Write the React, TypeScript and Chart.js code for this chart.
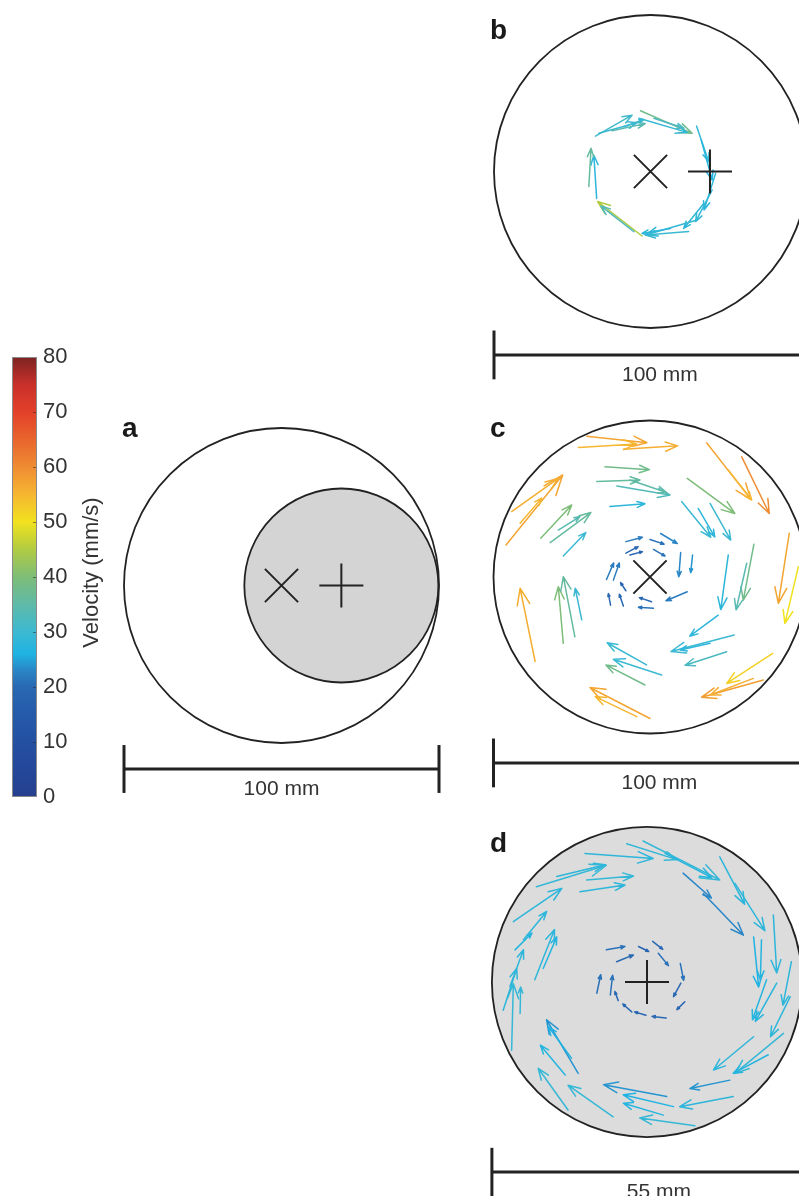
import React, { useEffect, useRef } from 'react';
import { Chart, registerables } from 'chart.js';

Chart.register(...registerables);

const FONT = '"Liberation Sans", Arial, Helvetica, sans-serif';

// ---------- colour bar ----------
const colorbarTicks = [0, 10, 20, 30, 40, 50, 60, 70, 80];
const colorbarTitle = 'Velocity (mm/s)';
const colormapLevels = [0, 5, 10, 15, 20, 23, 26, 30, 35, 40, 45, 50, 55, 60, 65, 70, 75, 80];
const colormapColors = ['#263f8e', '#24479a', '#2450a2', '#255aaa', '#2968b2', '#2a86c6', '#1eb3e2', '#3cb9d2', '#5fbaa8', '#7dbd78', '#b1cb42', '#f1e21e', '#f6b631', '#ef8c33', '#e8652d', '#e3402a', '#c9302a', '#7b2421'];

// ---------- panel a (mm) ----------
const aCircleX = [0, 19];
const aCircleY = [0, 0];
const aCircleR = [50, 30.8];
const aCrossX = [0];
const aCrossY = [0];
const aPlusX = [19];
const aPlusY = [0];
const aBar = [-50, 50];
const aBarLabel = '100 mm';

// ---------- panel b ----------
const bCircleX = [0];
const bCircleY = [0];
const bCircleR = [50];
const bCrossX = [0];
const bCrossY = [0];
const bPlusX = [19];
const bPlusY = [0];
const bBar = [-50, 56];
const bBarLabel = '100 mm';
const bArrowX = [-17.6, -16.5, -12.3, -8.5, -3.2, -3.7, 1.1, 14.7, 16.2, 20.8, 19.7, 17.0, 14.9, 12.2, 6.4, -2.7, -5.3, -17.2, -19.7];
const bArrowY = [11.3, 12.2, 13.0, 14.3, 19.4, 17.0, 17.0, 14.5, 10.1, -0.6, -5.9, -10.2, -15.5, -19.2, -18.2, -20.6, -19.2, -8.6, -4.8];
const bArrowU = [11.7, 12.2, 10.6, 6.4, 16.5, 15.4, 9.6, 3.9, 3.5, -3.7, -5.3, -6.4, -16.5, -13.8, -9.1, -14.2, -10.6, -0.9, 0.7];
const bArrowV = [6.7, 3.4, 2.3, 2.3, -7.2, -4.5, -3.2, -11.4, -12.8, -11.7, -10.1, -8.0, -4.8, -1.1, -1.6, 11.0, 8.2, 13.8, 12.2];
const bArrowSpeed = [31, 30, 34, 30, 38, 29, 32, 29, 27, 28, 29, 28, 29, 30, 28, 45, 33, 28, 36];

// ---------- panel c ----------
const cCircleX = [0];
const cCircleY = [0];
const cCircleR = [50];
const cCrossX = [0];
const cCrossY = [0];
const cBar = [-50, 56];
const cBarLabel = '100 mm';
const cArrowX = [-20.2, -22.9, -8.5, 18.1, 29.3, 25.0, -46.0, -44.2, -41.5, -34.9, -31.9, -27.7, -29.3, -14.4, -17.0, -10.6, -6.4, -12.8, 11.9, 10.1, 15.4, 19.2, 25.0, 33.2, 30.9, 44.5, 47.4, -36.7, -27.7, -24.0, -21.8, -1.1, 3.7, -1.6, 0.0, -4.2, 21.8, 26.9, 24.5, 19.2, 39.2, 36.2, 33.0,
  -7.7, 0.0, 3.4, -7.7, -6.4, 1.1, 9.8, 13.6, 11.9, 0.5, 1.1, -8.5, -12.6, -11.7, -13.9, -7.7];
const cArrowY = [45.0, 41.4, 40.8, 42.9, 38.4, 34.2, 10.2, 20.9, 17.2, 12.4, 11.0, 6.7, 15.0, 35.2, 30.5, 29.1, 31.0, 22.5, 31.5, 24.1, 21.9, 23.5, 7.0, 10.5, 4.4, 14.0, 3.3, -27.0, -21.2, -19.1, -13.7, -28.1, -31.3, -34.5, -45.2, -44.6, -12.2, -18.5, -23.9, -21.2, -24.4, -32.9, -32.4,
  11.3, 12.0, 13.9, 7.6, 7.0, 8.8, 7.8, 7.0, -4.7, -7.9, -10.0, -9.3, -9.0, -1.0, -0.8, -4.4];
const cArrowU = [19.2, 18.6, 17.3, 14.1, 8.8, 7.5, 18.1, 14.9, 6.9, 9.9, 13.0, 7.2, 6.9, 14.2, 13.8, 17.0, 11.7, 11.2, 15.2, 9.3, 5.3, 6.6, -2.4, -3.4, -3.4, -3.5, -4.3, -4.8, -1.6, -3.7, -2.1, -12.6, -15.4, -12.5, -19.2, -13.3, -9.1, -20.2, -13.3, -9.6, -14.7, -19.7, -13.8,
  5.3, 4.5, 5.3, 3.9, 4.0, 3.7, -0.6, -0.6, -6.8, -3.9, -4.8, -1.3, -0.7, 1.9, 2.3, -1.7];
const cArrowV = [-2.1, 1.1, 1.1, -18.1, -18.1, -9.6, 22.4, 10.6, 8.0, 10.6, 9.6, 7.5, 4.3, -0.9, 0.5, -2.9, -4.0, 0.9, -11.2, -11.4, -9.1, -11.7, -17.4, -17.9, -14.9, -22.4, -18.1, 23.4, 18.1, 19.2, 10.1, 7.1, 5.0, 6.4, 9.9, 6.4, -6.7, -5.3, -4.3, -2.1, -9.6, -5.5, -5.3,
  1.4, -1.5, -3.2, 2.1, 1.1, -2.1, -7.7, -5.6, -2.9, 1.3, 0.3, 3.8, 3.7, 5.5, 5.3, 2.6];
const cArrowSpeed = [57, 55, 56, 57, 60, 55, 57, 56, 55, 40, 36, 30, 34, 38, 36, 33, 35, 28, 40, 30, 28, 30, 28, 38, 34, 57, 50, 56, 40, 36, 30, 30, 30, 38, 57, 55, 28, 30, 32, 28, 52, 58, 56,
  22, 21, 23, 20, 19, 21, 23, 24, 22, 20, 21, 20, 20, 22, 22, 19];

// ---------- panel d ----------
const dCircleX = [0];
const dCircleY = [0];
const dCircleR = [27.5];
const dPlusX = [0];
const dPlusY = [0];
const dBar = [-27.5, 31.7];
const dBarLabel = '55 mm';
const dArrowX = [-11.0, -3.6, -0.7, 3.2, 6.4, 12.9, 15.6, 10.0, 18.9, 22.4, 20.3, 25.6, 23.0, 25.4, 21.2, 18.9, 24.2, 21.5, 14.7, 15.3, 3.5, 4.7, 2.9, 8.5, -6.0, -14.0, -12.2, -14.5, -13.4, -24.0, -25.5, -22.5, -24.3, -23.4, -23.7, -19.6, -19.9, -18.4, -11.9, -10.7, -16.0, -21.9,
  -7.2, -5.4, -1.5, 1.0, 2.0, 5.9, 6.0, 6.7, 3.4, -0.2, -2.7, -5.1, -6.5, -8.9];
const dArrowY = [22.8, 24.5, 25.0, 22.8, 19.3, 22.2, 17.5, 15.7, 8.0, 11.9, 7.5, 3.6, -0.2, -2.6, 0.4, -9.7, -9.1, -12.9, -17.4, -20.3, -20.3, -22.1, -23.6, -25.5, -23.9, -22.7, -16.2, -16.5, -13.5, -12.1, -5.0, -5.6, -0.8, 5.7, 10.7, 16.9, 0.4, 2.4, 16.0, 18.1, 18.7, 7.5,
  5.7, 3.6, 6.3, 7.2, 5.1, 3.3, -0.2, -3.5, -6.4, -5.9, -5.3, -3.3, -2.3, -2.0];
const dArrowU = [12.1, 8.9, 13.6, 8.3, 5.0, 4.4, 5.3, 7.1, 0.9, 0.6, -0.2, -1.5, -3.8, -3.5, -2.5, -7.1, -8.6, -6.2, -7.1, -9.5, -11.2, -8.9, -7.1, -9.8, -8.0, -5.3, -5.6, -4.4, -4.1, 0.3, 2.4, 0.1, 2.4, 3.0, 8.6, 12.4, 3.5, 2.4, 8.0, 8.3, 8.6, 4.1,
  3.3, 3.0, 1.8, 1.8, 1.8, 0.6, -1.3, -1.4, -2.5, -2.0, -1.6, -0.6, 0.4, 0.7];
const dArrowV = [-0.9, -2.8, -6.9, -4.3, -4.4, -8.4, -8.4, -7.4, -8.9, -10.3, -7.1, -7.7, -6.8, -7.1, -7.1, -5.9, -7.1, -3.3, -1.5, -1.8, 2.1, 2.1, 2.1, 1.4, 5.6, 7.4, 9.5, 5.3, 5.6, 11.8, 7.4, 4.7, 6.5, 3.0, 5.9, 3.8, 8.9, 5.6, 1.2, 0.7, 2.1, 5.0,
  0.6, 1.2, -0.9, -1.4, -2.2, -3.0, -2.4, -1.4, 0.3, 0.6, 1.4, 1.6, 3.5, 3.3];
const dArrowSpeed = [28, 29, 29, 27, 23, 28, 28, 23, 26, 28, 27, 28, 27, 28, 27, 28, 29, 27, 24, 28, 24, 26, 27, 29, 29, 29, 24, 27, 26, 29, 28, 29, 28, 27, 28, 29, 28, 27, 28, 29, 28, 28,
  21, 20, 19, 20, 21, 21, 20, 19, 20, 19, 20, 20, 21, 21];

// ---------- helpers ----------
function hexToRgb(h: string) {
  const n = parseInt(h.slice(1), 16);
  return [(n >> 16) & 255, (n >> 8) & 255, n & 255];
}
function speedColor(v: number) {
  const lv = colormapLevels;
  if (v <= lv[0]) return colormapColors[0];
  for (let i = 1; i < lv.length; i++) {
    if (v <= lv[i]) {
      const t = (v - lv[i - 1]) / (lv[i] - lv[i - 1]);
      const a = hexToRgb(colormapColors[i - 1]);
      const b = hexToRgb(colormapColors[i]);
      const c = a.map((x, k) => Math.round(x + (b[k] - x) * t));
      return `rgb(${c[0]},${c[1]},${c[2]})`;
    }
  }
  return colormapColors[colormapColors.length - 1];
}

const INK = '#222';

type Spec = {
  letter: string;
  letterPos: [number, number];
  rect: { left: number; top: number; width: number; height: number };
  center: [number, number];
  pxPerUnit: number;
  circles: { x: number[]; y: number[]; r: number[] };
  fills: (string | null)[];
  cross?: { x: number[]; y: number[] };
  plus?: { x: number[]; y: number[] };
  arrows?: { x: number[]; y: number[]; u: number[]; v: number[]; s: number[] };
  bar: number[];
  barY: number;
  barTick: number;
  barLabel: string;
};

const panels: Spec[] = [
  {
    letter: 'a', letterPos: [122, 437],
    rect: { left: 110, top: 395, width: 345, height: 415 },
    center: [281.5, 585.5], pxPerUnit: 3.15,
    circles: { x: aCircleX, y: aCircleY, r: aCircleR }, fills: [null, '#d4d4d4'],
    cross: { x: aCrossX, y: aCrossY }, plus: { x: aPlusX, y: aPlusY },
    bar: aBar, barY: -58.25, barTick: 7.6, barLabel: aBarLabel,
  },
  {
    letter: 'b', letterPos: [490, 39],
    rect: { left: 480, top: 0, width: 319, height: 395 },
    center: [650.5, 171.5], pxPerUnit: 3.13,
    circles: { x: bCircleX, y: bCircleY, r: bCircleR }, fills: [null],
    cross: { x: bCrossX, y: bCrossY }, plus: { x: bPlusX, y: bPlusY },
    arrows: { x: bArrowX, y: bArrowY, u: bArrowU, v: bArrowV, s: bArrowSpeed },
    bar: bBar, barY: -58.6, barTick: 7.8, barLabel: bBarLabel,
  },
  {
    letter: 'c', letterPos: [490, 437],
    rect: { left: 480, top: 400, width: 319, height: 405 },
    center: [650, 577], pxPerUnit: 3.13,
    circles: { x: cCircleX, y: cCircleY, r: cCircleR }, fills: [null],
    cross: { x: cCrossX, y: cCrossY },
    arrows: { x: cArrowX, y: cArrowY, u: cArrowU, v: cArrowV, s: cArrowSpeed },
    bar: cBar, barY: -59.4, barTick: 7.8, barLabel: cBarLabel,
  },
  {
    letter: 'd', letterPos: [490, 852],
    rect: { left: 480, top: 815, width: 319, height: 381 },
    center: [647, 982], pxPerUnit: 5.64,
    circles: { x: dCircleX, y: dCircleY, r: dCircleR }, fills: ['#dcdcdd'],
    plus: { x: dPlusX, y: dPlusY },
    arrows: { x: dArrowX, y: dArrowY, u: dArrowU, v: dArrowV, s: dArrowSpeed },
    bar: dBar, barY: -33.7, barTick: 4.3, barLabel: dBarLabel,
  },
];

function Panel({ spec }: { spec: Spec }) {
  const ref = useRef<HTMLCanvasElement>(null);
  useEffect(() => {
    const { rect, center, pxPerUnit: s } = spec;
    const xmin = (rect.left - center[0]) / s;
    const xmax = (rect.left + rect.width - center[0]) / s;
    const ymax = (center[1] - rect.top) / s;
    const ymin = (center[1] - rect.top - rect.height) / s;

    const decor = {
      id: 'panelDecor',
      beforeDatasetsDraw(chart: any) {
        const ctx = chart.ctx;
        const xs = chart.scales.x;
        const ys = chart.scales.y;
        ctx.save();
        for (let i = 0; i < spec.circles.x.length; i++) {
          const px = xs.getPixelForValue(spec.circles.x[i]);
          const py = ys.getPixelForValue(spec.circles.y[i]);
          const pr = xs.getPixelForValue(spec.circles.x[i] + spec.circles.r[i]) - px;
          ctx.beginPath();
          ctx.arc(px, py, pr, 0, Math.PI * 2);
          if (spec.fills[i]) {
            ctx.fillStyle = spec.fills[i];
            ctx.fill();
          }
          ctx.lineWidth = 1.8;
          ctx.strokeStyle = INK;
          ctx.stroke();
        }
        const ar = spec.arrows;
        if (ar) {
          ctx.lineWidth = 1.5;
          ctx.lineCap = 'round';
          ctx.lineJoin = 'round';
          for (let i = 0; i < ar.x.length; i++) {
            const x0 = xs.getPixelForValue(ar.x[i]);
            const y0 = ys.getPixelForValue(ar.y[i]);
            const x1 = xs.getPixelForValue(ar.x[i] + ar.u[i]);
            const y1 = ys.getPixelForValue(ar.y[i] + ar.v[i]);
            const L = Math.hypot(x1 - x0, y1 - y0);
            const ang = Math.atan2(y1 - y0, x1 - x0);
            const h = Math.max(3, L * 0.24);
            const sp = 0.36;
            ctx.strokeStyle = speedColor(ar.s[i]);
            ctx.beginPath();
            ctx.moveTo(x0, y0);
            ctx.lineTo(x1, y1);
            ctx.moveTo(x1 - h * Math.cos(ang - sp), y1 - h * Math.sin(ang - sp));
            ctx.lineTo(x1, y1);
            ctx.lineTo(x1 - h * Math.cos(ang + sp), y1 - h * Math.sin(ang + sp));
            ctx.stroke();
          }
        }
        ctx.restore();
      },
      afterDatasetsDraw(chart: any) {
        const ctx = chart.ctx;
        const xs = chart.scales.x;
        const ys = chart.scales.y;
        ctx.save();
        ctx.fillStyle = '#1a1a1a';
        ctx.font = `bold 28px ${FONT}`;
        ctx.textAlign = 'left';
        ctx.textBaseline = 'alphabetic';
        ctx.fillText(spec.letter, spec.letterPos[0] - rect.left, spec.letterPos[1] - rect.top);
        ctx.fillStyle = '#333';
        ctx.font = `21px ${FONT}`;
        ctx.textAlign = 'center';
        const mx = xs.getPixelForValue((spec.bar[0] + spec.bar[1]) / 2);
        const my = ys.getPixelForValue(spec.barY);
        ctx.fillText(spec.barLabel, mx, my + 26);
        ctx.restore();
      },
    };

    const lineDs = (pts: { x: number; y: number }[]) => ({
      data: pts,
      showLine: true,
      borderColor: INK,
      borderWidth: 3,
      pointRadius: 0,
      fill: false,
    });

    const datasets: any[] = [];
    if (spec.cross) {
      datasets.push({
        data: spec.cross.x.map((x, i) => ({ x, y: spec.cross!.y[i] })),
        pointStyle: 'crossRot', pointRadius: 23.5, pointBorderWidth: 2,
        pointBorderColor: INK, borderColor: INK, pointBackgroundColor: 'rgba(0,0,0,0)', showLine: false,
      });
    }
    if (spec.plus) {
      datasets.push({
        data: spec.plus.x.map((x, i) => ({ x, y: spec.plus!.y[i] })),
        pointStyle: 'cross', pointRadius: 22, pointBorderWidth: 2,
        pointBorderColor: INK, borderColor: INK, pointBackgroundColor: 'rgba(0,0,0,0)', showLine: false,
      });
    }
    const [b0, b1] = spec.bar;
    datasets.push(lineDs([{ x: b0, y: spec.barY }, { x: b1, y: spec.barY }]));
    datasets.push(lineDs([{ x: b0, y: spec.barY - spec.barTick }, { x: b0, y: spec.barY + spec.barTick }]));
    datasets.push(lineDs([{ x: b1, y: spec.barY - spec.barTick }, { x: b1, y: spec.barY + spec.barTick }]));

    const chart = new Chart(ref.current as HTMLCanvasElement, {
      type: 'scatter',
      data: { datasets },
      options: {
        responsive: false,
        maintainAspectRatio: false,
        animation: false,
        events: [],
        layout: { padding: 0, autoPadding: false },
        plugins: { legend: { display: false }, tooltip: { enabled: false } },
        scales: {
          x: { type: 'linear', display: false, min: xmin, max: xmax },
          y: { type: 'linear', display: false, min: ymin, max: ymax },
        },
      } as any,
      plugins: [decor],
    });
    return () => chart.destroy();
  }, [spec]);
  const r = spec.rect;
  return (
    <canvas
      ref={ref}
      width={r.width}
      height={r.height}
      style={{ position: 'absolute', left: r.left, top: r.top, width: r.width, height: r.height }}
    />
  );
}

function ColorBar() {
  const ref = useRef<HTMLCanvasElement>(null);
  useEffect(() => {
    const barPlugin = {
      id: 'colorbar',
      beforeDatasetsDraw(chart: any) {
        const ctx = chart.ctx;
        const ys = chart.scales.y;
        const { left, right } = chart.chartArea;
        const lo = colormapLevels[0];
        const hi = colormapLevels[colormapLevels.length - 1];
        const top = ys.getPixelForValue(hi);
        const bottom = ys.getPixelForValue(lo);
        ctx.save();
        const g = ctx.createLinearGradient(0, bottom, 0, top);
        colormapLevels.forEach((v, i) => g.addColorStop((v - lo) / (hi - lo), colormapColors[i]));
        ctx.fillStyle = g;
        ctx.fillRect(left, top, right - left, bottom - top);
        ctx.strokeStyle = 'rgba(40,40,40,0.55)';
        ctx.lineWidth = 1;
        colorbarTicks.forEach((t) => {
          if (t === lo || t === hi) return;
          const y = Math.round(ys.getPixelForValue(t)) + 0.5;
          ctx.beginPath();
          ctx.moveTo(right - 4, y);
          ctx.lineTo(right, y);
          ctx.stroke();
        });
        ctx.strokeStyle = '#8a8a8a';
        ctx.strokeRect(left + 0.5, top + 0.5, right - left - 1, bottom - top - 1);
        // title
        ctx.fillStyle = '#333';
        ctx.font = `22px ${FONT}`;
        ctx.textAlign = 'center';
        ctx.textBaseline = 'middle';
        ctx.translate(92, 572.5 - 330);
        ctx.rotate(-Math.PI / 2);
        ctx.fillText(colorbarTitle, 0, 0);
        ctx.restore();
      },
    };
    const chart = new Chart(ref.current as HTMLCanvasElement, {
      type: 'scatter',
      data: { datasets: [] },
      options: {
        responsive: false,
        maintainAspectRatio: false,
        animation: false,
        events: [],
        layout: { padding: { left: 12, top: 27, bottom: 23, right: 0 }, autoPadding: false },
        plugins: { legend: { display: false }, tooltip: { enabled: false } },
        scales: {
          x: { type: 'linear', display: false, min: 0, max: 1 },
          y: {
            type: 'linear',
            position: 'right',
            min: colorbarTicks[0],
            max: colorbarTicks[colorbarTicks.length - 1],
            afterFit: (sc: any) => { sc.width = 83; },
            afterBuildTicks: (sc: any) => { sc.ticks = colorbarTicks.map((v) => ({ value: v })); },
            ticks: { font: { size: 22, family: FONT }, color: '#333', padding: 6 },
            grid: { display: false, drawTicks: false },
            border: { display: false },
          },
        },
      } as any,
      plugins: [barPlugin],
    });
    return () => chart.destroy();
  }, []);
  return (
    <canvas
      ref={ref}
      width={120}
      height={490}
      style={{ position: 'absolute', left: 0, top: 330, width: 120, height: 490 }}
    />
  );
}

export default function App() {
  return (
    <div style={{ position: 'absolute', left: 0, top: 0, width: 799, height: 1196, background: '#fff', overflow: 'hidden' }}>
      <ColorBar />
      {panels.map((p) => (
        <Panel key={p.letter} spec={p} />
      ))}
    </div>
  );
}
